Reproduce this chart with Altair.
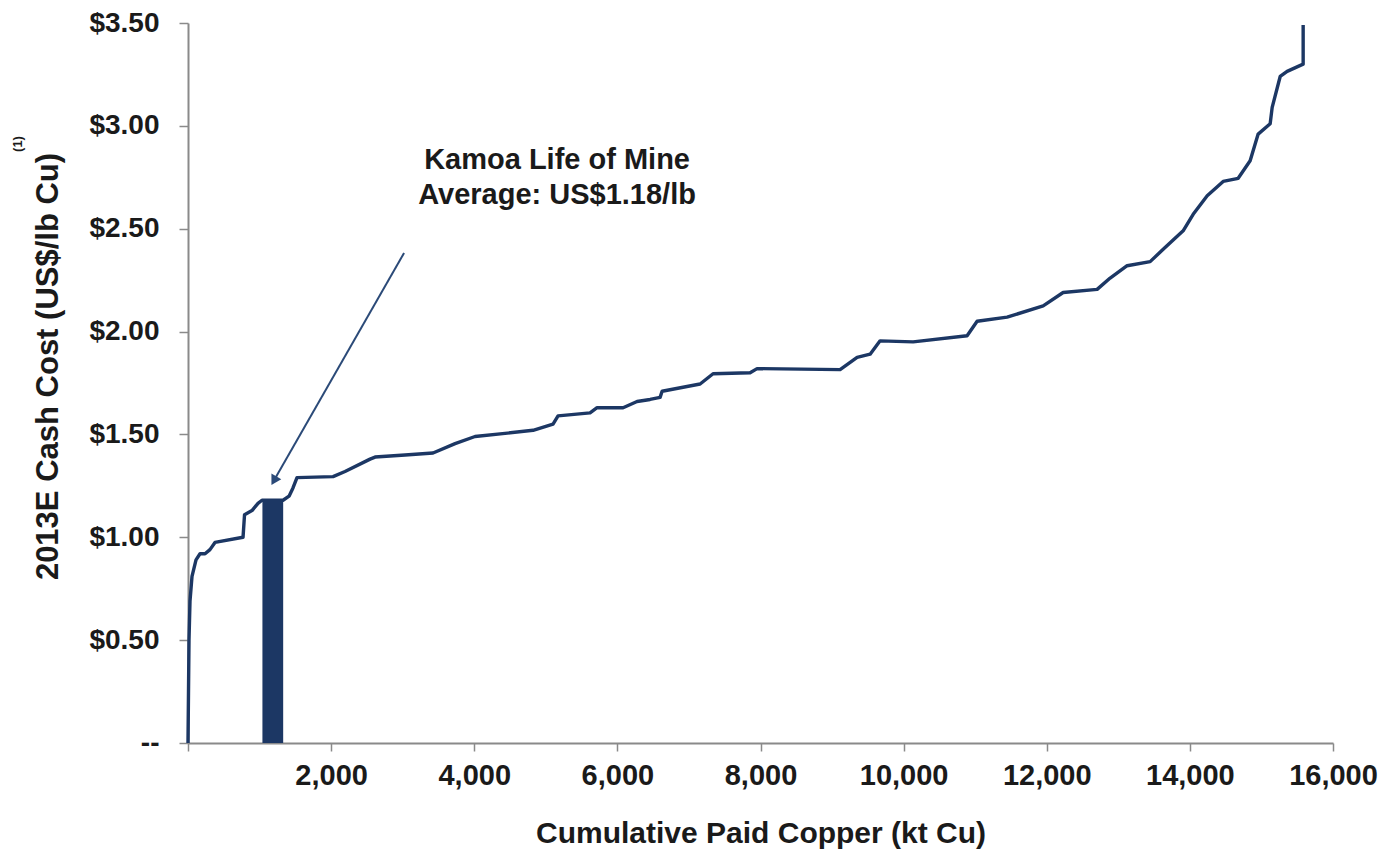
import altair as alt
import pandas as pd

# ---- data ----
cum_kt = [0, 14, 28, 56, 112, 168, 238, 307, 377, 769,
          790, 894, 978, 1034, 1328, 1412, 1467, 1523, 2027, 2194,
          2544, 2614, 3033, 3424, 3732, 4011, 4430, 4822, 5101, 5171,
          5618, 5716, 6080, 6275, 6457, 6597, 6625, 7156, 7337, 7855,
          7952, 9112, 9350, 9532, 9671, 10133, 10887, 11027, 11446, 11950,
          12229, 12704, 12886, 13123, 13445, 13627, 13906, 14046, 14242, 14465,
          14675, 14842, 14954, 15122, 15150, 15262, 15359, 15583, 15583]
cost = [0, 0.50, 0.69, 0.81, 0.89, 0.92, 0.92, 0.94, 0.975, 1.0,
        1.11, 1.13, 1.165, 1.18, 1.18, 1.20, 1.24, 1.29, 1.295, 1.32,
        1.38, 1.39, 1.40, 1.41, 1.455, 1.49, 1.505, 1.52, 1.55, 1.59,
        1.605, 1.63, 1.63, 1.66, 1.67, 1.68, 1.71, 1.745, 1.795, 1.80,
        1.82, 1.815, 1.875, 1.89, 1.955, 1.95, 1.98, 2.05, 2.07, 2.125,
        2.19, 2.205, 2.26, 2.32, 2.34, 2.40, 2.49, 2.57, 2.66, 2.73,
        2.745, 2.83, 2.96, 3.01, 3.09, 3.24, 3.265, 3.30, 3.49]

kamoa_start = 1040
kamoa_end = 1330
kamoa_avg = 1.18

arrow_start = [3019, 2.382]
arrow_end = [1215, 1.285]
arrow_head = [1200, 1.275]

note_lines = ["Kamoa Life of Mine", "Average: US$1.18/lb"]
note_x = [5157, 5157]
note_y = [2.79, 2.62]

y_ticks = [0, 0.5, 1.0, 1.5, 2.0, 2.5, 3.0, 3.5]
x_ticks = [0, 2000, 4000, 6000, 8000, 10000, 12000, 14000, 16000]

NAVY = "#1c3764"
FONT = "Liberation Sans"

curve_df = pd.DataFrame({"x": cum_kt, "y": cost, "i": list(range(len(cum_kt)))})
bar_df = pd.DataFrame({"x": [kamoa_start], "x2": [kamoa_end], "y": [kamoa_avg], "y2": [0]})
arrow_df = pd.DataFrame({"x": [arrow_start[0]], "y": [arrow_start[1]],
                         "x2": [arrow_end[0]], "y2": [arrow_end[1]]})
head_df = pd.DataFrame({"x": [arrow_head[0]], "y": [arrow_head[1]]})
note_df = pd.DataFrame({"x": note_x, "y": note_y, "t": note_lines})

X = alt.X(
    "x:Q",
    scale=alt.Scale(domain=[0, 16000], nice=False, zero=True),
    axis=alt.Axis(
        values=x_ticks,
        labelExpr="datum.value == 0 ? '' : format(datum.value, ',')",
        title="Cumulative Paid Copper (kt Cu)",
        titleFontSize=30,
        titleY=99,
        titleBaseline="alphabetic",
        labelFontSize=29,
        labelPadding=10,
        labelFlush=False,
        labelOverlap=False,
        tickSize=8,
    ),
)
Y = alt.Y(
    "y:Q",
    scale=alt.Scale(domain=[0, 3.5], nice=False, zero=True),
    axis=alt.Axis(
        values=y_ticks,
        labelExpr="datum.value == 0 ? '--' : '$' + format(datum.value, '.2f')",
        title="2013E Cash Cost (US$/lb Cu)",
        titleFontSize=31,
        titleAngle=270,
        titleX=-131,
        titleY=343,
        titleAlign="center",
        titleBaseline="alphabetic",
        labelFontSize=28,
        labelPadding=20,
        labelFlush=False,
        labelOverlap=False,
        tickSize=9,
    ),
)

bar = alt.Chart(bar_df).mark_rect(color=NAVY).encode(x=X, x2="x2:Q", y=Y, y2="y2:Q")
line = alt.Chart(curve_df).mark_line(color=NAVY, strokeWidth=3.4, strokeJoin="round").encode(
    x=X, y=Y, order="i:Q")
arrow = alt.Chart(arrow_df).mark_rule(color="#2b4a78", strokeWidth=2).encode(
    x=X, y=Y, x2="x2:Q", y2="y2:Q")
head = alt.Chart(head_df).mark_point(shape="triangle-up", filled=True, size=130, angle=210,
                                     color="#2b4a78", opacity=1).encode(x=X, y=Y)
note = alt.Chart(note_df).mark_text(font=FONT, fontSize=29, fontWeight="bold", color="#1a1a1a",
                                    align="center", baseline="alphabetic").encode(
    x=X, y=Y, text="t:N")
sup = alt.Chart(head_df).mark_text(font=FONT, fontSize=13, fontWeight="bold", color="#1a1a1a",
                                   angle=270, align="center", baseline="middle").encode(
    x=alt.value(-170), y=alt.value(121), text=alt.value("(1)"))

chart = alt.layer(bar, line, arrow, head, note, sup).properties(
    width=1145,
    height=720,
    autosize=alt.AutoSizeParams(type="none"),
    padding={"left": 180, "top": 15, "right": 50, "bottom": 110},
).configure_view(stroke=None).configure_axis(
    grid=False,
    domainColor="#8a8a8a",
    domainWidth=2,
    tickColor="#8a8a8a",
    tickWidth=1.5,
    labelFont=FONT,
    labelFontWeight="bold",
    labelColor="#1a1a1a",
    titleFont=FONT,
    titleFontWeight="bold",
    titleColor="#1a1a1a",
)

chart.save("out.html", embed_options={"renderer": "svg", "actions": False})
